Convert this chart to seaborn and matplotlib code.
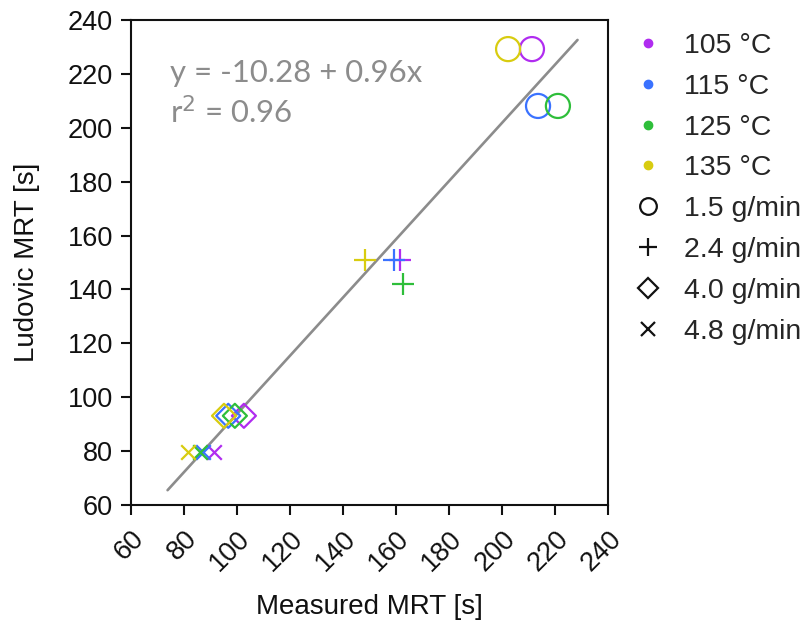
import numpy as np
import pandas as pd
import matplotlib
matplotlib.use("Agg")
import matplotlib.pyplot as plt
from matplotlib.markers import MarkerStyle
from matplotlib.lines import Line2D
import seaborn as sns

# ---- data ----
temps = ["105 °C", "115 °C", "125 °C", "135 °C"]
flows = ["1.5 g/min", "2.4 g/min", "4.0 g/min", "4.8 g/min"]
measured_15 = [211.3, 213.6, 221.1, 202.3]
ludovic_15 = [229.2, 208.1, 208.1, 229.2]
measured_24 = [161.6, 159.2, 162.7, 148.3]
ludovic_24 = [151.0, 151.0, 142.2, 151.0]
measured_40 = [102.6, 96.7, 99.2, 95.1]
ludovic_40 = [93.1, 93.1, 93.1, 93.1]
measured_48 = [91.3, 87.2, 86.0, 81.6]
ludovic_48 = [79.8, 79.8, 79.8, 79.8]
fit_x = [73.8, 228.5]
fit_y = [65.5, 232.6]
x_ticks = [60, 80, 100, 120, 140, 160, 180, 200, 220, 240]
y_ticks = [60, 80, 100, 120, 140, 160, 180, 200, 220, 240]

colors = ["#B02CF0", "#3A72FF", "#2EBE3A", "#D8CC10"]
palette = dict(zip(temps, colors))

sns.set_theme(style="white")
plt.rcParams["font.family"] = ["Liberation Sans", "DejaVu Sans"]

fig = plt.figure(figsize=(8.09, 6.21), dpi=100)
ax = fig.add_axes([131 / 809, 1 - 505 / 621, 477 / 809, 485 / 621])

sns.lineplot(x=fit_x, y=fit_y, ax=ax, color="#8C8C8C", lw=1.9, zorder=1)

groups = [
    (measured_15, ludovic_15, MarkerStyle("o", fillstyle="none"), 300),
    (measured_24, ludovic_24, "+", 260),
    (measured_40, ludovic_40, MarkerStyle("D", fillstyle="none"), 150),
    (measured_48, ludovic_48, "x", 110),
]
for mx, my, mk, s in groups:
    df = pd.DataFrame({"Measured": mx, "Ludovic": my, "T": temps})
    for t in temps:
        sub = df[df["T"] == t]
        sns.scatterplot(data=sub, x="Measured", y="Ludovic",
                        color=palette[t], marker=mk, s=s, linewidth=1.6,
                        legend=False, ax=ax, zorder=3)

ax.set_xlim(60, 240)
ax.set_ylim(60, 240)
ax.set_xticks(x_ticks)
ax.set_yticks(y_ticks)
ax.set_xticklabels([str(t) for t in x_ticks], rotation=45, ha="right",
                   rotation_mode="anchor")
for sp in ax.spines.values():
    sp.set_visible(True)
    sp.set_color("#111111")
    sp.set_linewidth(1.5)
ax.tick_params(axis="both", direction="out", length=7, width=1.5,
               color="#111111", labelsize=19.5, labelcolor="#111111",
               bottom=True, left=True)
ax.tick_params(axis="x", pad=8)
ax.tick_params(axis="y", pad=6)
ax.set_xlabel("Measured MRT [s]", fontsize=20, color="#111111", labelpad=13)
ax.set_ylabel("Ludovic MRT [s]", fontsize=20, color="#111111", labelpad=20)

ax.text((170 - 131) / 477, 1 - (73 - 20) / 485,
        "y = -10.28 + 0.96x", transform=ax.transAxes, fontsize=22.4,
        color="#8C8C8C", va="center", ha="left",
        family=["Lato", "DejaVu Sans"])
ax.text((170 - 131) / 477, 1 - (112 - 20) / 485, "r$^2$ = 0.96",
        transform=ax.transAxes, fontsize=22.4, color="#8C8C8C",
        va="center", ha="left", family=["Lato", "DejaVu Sans"])

handles = []
for t, c in zip(temps, colors):
    handles.append(Line2D([], [], ls="", marker="o", ms=6, color=c, label=t))
shape_marks = [MarkerStyle("o", fillstyle="none"), "+", MarkerStyle("D", fillstyle="none"), "x"]
shape_ms = [12, 13, 10, 10]
for f, m, ms in zip(flows, shape_marks, shape_ms):
    handles.append(Line2D([], [], ls="", marker=m, ms=ms, color="#111111",
                          mew=1.6, label=f))
fig.legend(handles=handles, loc="upper left",
           bbox_to_anchor=(634 / 809, 1 - 33 / 621), frameon=False,
           fontsize=20.5, handlelength=1.0, handletextpad=0.75,
           labelspacing=0.52, borderpad=0, borderaxespad=0)

fig.savefig("out.png", dpi=100)
